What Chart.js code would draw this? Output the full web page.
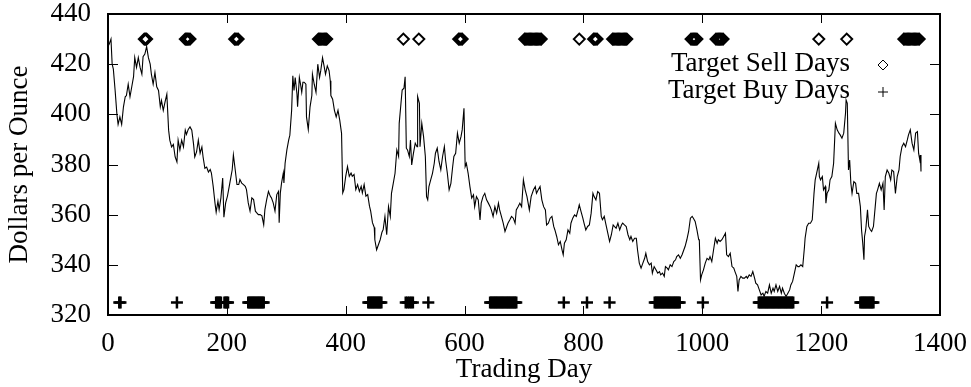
<!DOCTYPE html>
<html>
<head>
<meta charset="utf-8">
<title>Dollars per Ounce</title>
<script src="https://cdn.jsdelivr.net/npm/chart.js@4.4.1/dist/chart.umd.min.js"></script>
<style>
  html, body { margin: 0; padding: 0; background: #fff; }
  #wrap { width: 971px; height: 387px; }
</style>
</head>
<body>
<div id="wrap"><canvas id="chart" width="971" height="387"></canvas></div>
<script>
// ── Datos ────────────────────────────────────────────────────

const X_TICKS = [0, 200, 400, 600, 800, 1000, 1200, 1400];
const Y_TICKS = [320, 340, 360, 380, 400, 420, 440];

// precio diario (día de negociación → dólares)
const priceDays = [
  0, 2, 5, 7, 9, 12, 15, 17, 20, 23, 26, 29, 31, 34, 37, 40, 43, 45, 48, 51, 54, 57, 59, 62, 65, 68,
  71, 73, 76, 79, 82, 85, 88, 90, 93, 96, 99, 102, 104, 107, 110, 113, 116, 118, 121, 124, 127, 130,
  132, 135, 138, 141, 144, 146, 149, 152, 155, 158, 160, 163, 166, 169, 172, 174, 177, 180, 182, 185,
  187, 190, 193, 195, 198, 201, 204, 207, 209, 211, 214, 217, 220, 222, 225, 228,
  231, 233, 236, 239, 242, 245, 248, 250, 253, 256, 259, 262, 264, 267, 270, 273, 275, 278, 281, 284,
  287, 288, 290, 292, 295, 296, 298, 301, 304, 306, 309, 311, 313, 315, 318, 319, 322, 324, 326, 328,
  330, 333, 334, 337, 340, 343, 344, 347, 350, 353, 356, 358, 361, 364, 366, 369, 372, 374, 375, 378,
  381, 384, 387, 390, 393, 395, 397, 400, 403, 406, 409, 411, 414, 417, 420, 423, 426, 428, 431, 434,
  437, 440, 442, 445, 448, 449, 452, 455, 458, 461, 463,
  466, 469, 472, 475, 477, 480, 483, 486, 489, 490, 493, 495, 498, 500, 502, 504, 507, 509, 511, 514,
  517, 520, 521, 524, 525, 528, 531, 534, 536, 538, 540, 543, 546, 549, 551, 554, 557, 560, 563, 566,
  568, 571, 574, 577, 580, 582, 585, 588, 591, 594, 596, 599, 601, 603, 606, 609, 612, 615, 617, 620,
  623, 626, 628, 631, 634, 637, 640, 643, 645, 648, 651, 654, 657, 659, 662, 665, 668, 671, 673, 676,
  679, 682, 685, 687, 690, 693, 696, 699,
  702, 705, 709, 712, 716, 719, 721, 724, 727, 730, 733, 736, 738, 741, 744, 747, 750, 752, 755, 758,
  761, 764, 766, 768, 771, 774, 777, 779, 782, 785, 788, 791, 793, 796, 799, 801, 804, 807, 810, 813,
  816, 818, 821, 824, 827, 830, 832, 835, 838, 841, 844, 847, 850, 852, 855, 858, 861, 864, 866, 869,
  872, 875, 878, 880, 883, 886, 889, 891, 894, 897, 900, 903, 905, 908, 911, 914, 916, 919, 922, 925,
  928, 930, 933, 936,
  938, 941, 943, 946, 949, 952, 955, 957, 960, 963, 966, 969, 971, 974, 977, 980, 983, 985, 988, 991,
  994, 995, 997, 999, 1002, 1005, 1008, 1011, 1013, 1016, 1019, 1022, 1025, 1027, 1030, 1033, 1036,
  1039, 1041, 1044, 1047, 1050, 1053, 1055, 1058, 1060, 1062, 1065, 1068, 1071, 1074, 1076, 1079,
  1082, 1085, 1088, 1090, 1093, 1096, 1099, 1102, 1104, 1107, 1110, 1113, 1116, 1119, 1121, 1124,
  1127, 1130, 1133, 1135, 1138, 1141, 1144, 1147, 1149, 1152, 1155, 1158, 1161, 1163, 1166, 1169,
  1172, 1173,
  1176, 1179, 1182, 1185, 1188, 1190, 1193, 1196, 1197, 1199, 1202, 1204, 1207, 1208, 1210, 1213,
  1215, 1218, 1221, 1224, 1227, 1230, 1232, 1235, 1238, 1241, 1242, 1244, 1246, 1248, 1250, 1252,
  1255, 1258, 1260, 1263, 1266, 1268, 1270, 1272, 1273, 1275, 1278, 1280, 1283, 1285, 1288, 1291,
  1293, 1295, 1298, 1301, 1304, 1306, 1308, 1311, 1314, 1317, 1319, 1322, 1325, 1328, 1331, 1333,
  1336, 1339, 1342, 1345, 1347, 1350, 1353, 1356, 1359, 1362, 1364, 1366, 1367, 1368
];
const priceValues = [
  427, 428, 430, 420, 418, 409.5, 400, 396, 399, 396, 403, 407, 407.5, 412, 407, 411, 415, 422.6, 418.7, 422.6, 418.7, 416, 423, 424, 427, 422.6,
  420, 416, 412, 416.7, 411, 409.5, 403, 405.5, 401.6, 405, 408, 393.7, 389.7, 387, 388, 383, 381, 389.7, 385.8, 389.7, 387, 393.7,
  392, 394, 395, 393.7, 388, 383, 385, 389.7, 384.5, 387, 383, 378.5, 379, 377, 378, 376.6, 371.3, 364.7, 361, 365.4,
  362, 366.7, 374.6, 359, 364.7, 367.4, 371.3, 375.3, 377.9, 383.8, 378, 372, 372, 374, 372.6, 372,
  371.3, 370, 364.7, 361.4, 366.7, 366, 361.4, 360.8, 360, 360, 359.5, 356, 362, 366, 369.3, 367.4, 366.7, 364.7, 361.4, 368,
  369.3, 356.8, 368.7, 372.6, 376.6, 372.6, 380.5, 385.8, 389.7, 391.7, 401.6, 415.4, 409.5, 414.7, 408, 403, 414.7, 412, 408.8, 412.8,
  412.8, 412, 399, 394, 403, 407.5, 416, 412, 408.8, 420, 414.7, 417.4, 422.6, 418.7, 416, 419.3, 417.4, 413.4, 407.5, 406,
  401.6, 399, 401.6, 397.6, 392.4, 368.7, 370, 375.3, 379.2, 375.3, 376.6, 375.3, 376, 370, 372, 369.3, 371.3, 368.7, 372, 367.4,
  368, 363.4, 361.4, 356.8, 354.9, 350, 346, 348, 350, 353, 354,
  359.3, 352, 363.2, 359.3, 368.5, 372.5, 376.5, 385.8, 383.2, 396.4, 404.4, 409.7, 410.4, 415, 386.5, 385.8, 383.2, 389.8, 379.8, 384.5,
  388.5, 387.1, 407.1, 404.4, 387.1, 396.4, 391.1, 383.2, 367.2, 365.9, 371.2, 373.9, 376.5, 380.5, 384.5, 386.5, 381.2, 377.9, 383.2, 387.1,
  381.8, 376.5, 369.9, 372.5, 379.2, 383.2, 384.5, 392.5, 388.5, 391.1, 393.8, 402.4, 379.2, 380.5, 376.5, 371.2, 366.6, 367.9, 363.2, 367.2,
  365.9, 357.9, 364.6, 367.2, 368.5, 365.9, 364.6, 363.2, 361.9, 359.3, 363.2, 360.6, 364.6, 361.9, 359.3, 356.6, 353.3, 355.3, 356.6, 357.9,
  359.3, 358.6, 356.6, 361.9, 363.2, 364.6, 363.2, 373.9,
  369.9, 367.2, 361.9, 367.2, 369.9, 371.2, 368.5, 369.9, 371.2, 365.9, 363.2, 361.9, 355.9, 356.6, 358.6, 359.3, 355.3, 353.9, 351.3, 348,
  349.3, 346, 344, 348.6, 350, 353.9, 352.6, 356.6, 358.6, 359.9, 359.3, 361.9, 363.9, 361.2, 358.6, 356.6, 353.9, 355.3, 355.9, 360.6,
  368.5, 367.2, 365.9, 369.2, 368.5, 359.3, 358, 359.3, 355.9, 352.6, 349.3, 352, 355.9, 355.3, 354.6, 356.6, 353.9, 355.9, 356.6, 355.9,
  355.3, 352, 350, 351.3, 349.3, 350.6, 350.6, 346, 340.7, 338.7, 340.7, 342.6, 344.6, 341.3, 340, 340.7, 336.7, 339.3, 338, 336.7,
  337.3, 336, 336.7, 335.4,
  339.3, 338.7, 338, 340, 339.3, 341.3, 342, 343.3, 344, 342.6, 344, 346, 347.3, 350, 353.3, 358.6, 359.3, 358.6, 357.3, 353.9,
  350, 350, 334, 336, 338, 340.7, 342.6, 342, 343.3, 341.3, 346, 350.6, 348.6, 350, 349.3, 350, 351.3,
  352.6, 344, 343.3, 344.6, 339.3, 338.7, 337.3, 335.4, 329.4, 334, 335.4, 334.7, 334.7, 335.4, 334.7, 336,
  335.4, 337.3, 334.7, 332.7, 332, 330, 328, 328.7, 327.4, 329.4, 328.7, 332, 328.7, 330.7, 329.4, 332,
  329.4, 331.4, 328.7, 330.7, 328.7, 327.4, 328.7, 330, 332, 333.4, 336.7, 340, 339.3, 339.3, 340, 339.3,
  347.3, 350.6,
  355.3, 356.6, 356.6, 357.9, 368.5, 373.9, 377.2, 380.5, 375.2, 373.9, 375.2, 369.9, 371.2, 364.6, 368.5, 369.9,
  373.9, 375.2, 380.5, 396.4, 393.8, 392.5, 391.8, 390.5, 392.5, 400.4, 405.7, 404.4, 377.8, 381.8, 372.5, 368.5,
  373.2, 372.5, 368.5, 368.5, 363.2, 353.9, 348.6, 342, 351.3, 353.9, 361.9, 355.3, 353.9, 353.3, 355.3, 363.2,
  368.5, 369.9, 372.5, 369.9, 372.5, 361.9, 375.2, 377.8, 376.5, 373.9, 377.8, 377.2, 368.5, 375.2, 377.8, 383.2,
  387.1, 388.5, 387.1, 389.8, 391.8, 393.8, 388.5, 385.8, 392.5, 393.1, 384.5, 381.8, 383.8, 377.2
];

// días marcados arriba (venta) y abajo (compra)
const sellDays = [
  61, 63, 65,
  130, 132, 134, 136, 138,
  213, 215, 217, 219,
  354, 356, 358, 360, 362, 364, 366, 368,
  497, 523,
  590, 592, 594, 596,
  701, 703, 705, 707, 709, 711, 713, 715, 717, 719, 721, 723, 725, 727, 729,
  793,
  817, 819, 821, 823,
  849, 851, 853, 855, 857, 859, 861, 863, 865, 867, 869, 871, 873,
  981, 983, 985, 987, 989, 991,
  1023, 1025, 1027, 1029, 1031, 1033, 1035,
  1196, 1243,
  1339, 1341, 1343, 1345, 1347, 1349, 1351, 1353, 1355, 1357, 1359, 1361, 1363, 1365
];
const buyDays = [
  19, 21,
  116,
  182, 184, 186, 188, 190,
  196, 198, 200, 202,
  236, 238, 240, 242, 244, 246, 248, 250, 252, 254, 256, 258, 260, 262,
  438, 440, 442, 444, 446, 448, 450, 452, 454, 456, 458, 460,
  501, 504, 507, 510, 513,
  539,
  643, 645, 647, 649, 651, 653, 655, 657, 659, 661, 663, 665, 667, 669, 671, 673, 675, 677, 679, 681, 683, 685, 687,
  767, 806, 844,
  920, 922, 924, 926, 928, 930, 932, 934, 936, 938, 940, 942, 944, 946, 948, 950, 952, 954, 956, 958, 960, 962,
  1001,
  1095, 1097, 1099, 1101, 1103, 1105, 1107, 1109, 1111, 1113, 1115, 1117, 1119, 1121, 1123, 1125, 1127,
  1129, 1131, 1133, 1135, 1137, 1139, 1141, 1143, 1145, 1147, 1149, 1151, 1153,
  1210,
  1266, 1268, 1270, 1272, 1274, 1276, 1278, 1280, 1282, 1284, 1286, 1288
];
const SELL_LEVEL = 430;
const BUY_LEVEL = 325;

// ── Plugins estilo gnuplot ───────────────────────────────────

const FONT = '"Liberation Serif", "Times New Roman", serif';

// marco grueso + marcas hacia adentro en los 4 lados
const marcoPlugin = {
  id: 'marco',
  afterDatasetsDraw(chart) {
    const { ctx, chartArea: a, scales: { x, y } } = chart;
    ctx.save();
    ctx.strokeStyle = '#000';
    ctx.lineWidth = 1;
    ctx.beginPath();
    X_TICKS.forEach(v => {
      const px = Math.round(x.getPixelForValue(v)) + 0.5;
      ctx.moveTo(px, a.bottom); ctx.lineTo(px, a.bottom - 9);
      ctx.moveTo(px, a.top);    ctx.lineTo(px, a.top + 9);
    });
    Y_TICKS.forEach(v => {
      const py = Math.round(y.getPixelForValue(v)) + 0.5;
      ctx.moveTo(a.left, py);  ctx.lineTo(a.left + 10, py);
      ctx.moveTo(a.right, py); ctx.lineTo(a.right - 10, py);
    });
    ctx.stroke();
    ctx.lineWidth = 2;
    ctx.strokeRect(a.left, a.top, a.right - a.left, a.bottom - a.top);
    ctx.restore();
  }
};

// leyenda: texto alineado a la derecha y el símbolo después (sin relleno)
const leyendaPlugin = {
  id: 'leyenda',
  afterDraw(chart) {
    const ctx = chart.ctx;
    const filas = [
      { ds: chart.data.datasets[1], y: 64 },
      { ds: chart.data.datasets[2], y: 91 }
    ];
    ctx.save();
    ctx.font = '27px ' + FONT;
    ctx.textAlign = 'right';
    ctx.textBaseline = 'middle';
    filas.forEach(f => {
      ctx.fillStyle = '#000';
      ctx.fillText(f.ds.label, 850, f.y);
      ctx.fillStyle = 'rgba(0,0,0,0)';
      ctx.strokeStyle = '#000';
      ctx.lineWidth = 1;
      Chart.helpers.drawPoint(ctx, { pointStyle: f.ds.pointStyle, radius: 5, rotation: 0, borderWidth: 1 }, 883, f.y + 1);
    });
    ctx.restore();
  }
};

// ── Gráfico ──────────────────────────────────────────────────

Chart.defaults.font.family = FONT;
Chart.defaults.font.size = 27;
Chart.defaults.color = '#000';

new Chart(document.getElementById('chart'), {
  type: 'scatter',
  data: {
    datasets: [
      {
        label: 'Precio',
        data: priceDays.map((d, i) => ({ x: d, y: priceValues[i] })),
        showLine: true,
        borderColor: '#000',
        borderWidth: 1.1,
        pointRadius: 0,
        tension: 0
      },
      {
        label: 'Target Sell Days',
        data: sellDays.map(d => ({ x: d, y: SELL_LEVEL })),
        pointStyle: 'rectRot',
        pointRadius: 5.5,
        borderColor: '#000',
        backgroundColor: 'rgba(0,0,0,0)',
        borderWidth: 2
      },
      {
        label: 'Target Buy Days',
        data: buyDays.map(d => ({ x: d, y: BUY_LEVEL })),
        pointStyle: 'cross',
        pointRadius: 6,
        borderColor: '#000',
        borderWidth: 2.5
      }
    ]
  },
  options: {
    responsive: false,
    devicePixelRatio: 1,
    animation: false,
    layout: { padding: { left: 0, right: 31, top: 14, bottom: 0 } },
    plugins: { legend: { display: false }, tooltip: { enabled: false } },
    scales: {
      x: {
        type: 'linear',
        min: 0,
        max: 1400,
        afterBuildTicks: s => { s.ticks = X_TICKS.map(v => ({ value: v })); },
        ticks: { padding: 13, maxRotation: 0, callback: v => String(v) },
        grid: { display: false, drawTicks: false },
        border: { display: false },
        title: { display: true, text: 'Trading Day', padding: { top: 0, bottom: 1 } },
        afterFit: s => { s.height = 72; s.paddingLeft = 0; s.paddingRight = 0; }
      },
      y: {
        min: 320,
        max: 440,
        afterBuildTicks: s => { s.ticks = Y_TICKS.map(v => ({ value: v })); },
        ticks: { padding: 17, callback: v => String(v) },
        grid: { display: false, drawTicks: false },
        border: { display: false },
        title: { display: true, text: 'Dollars per Ounce', padding: { top: 4, bottom: 0 } },
        afterFit: s => { s.width = 108; s.paddingTop = 0; s.paddingBottom = 0; }
      }
    }
  },
  plugins: [marcoPlugin, leyendaPlugin]
});
</script>
</body>
</html>
